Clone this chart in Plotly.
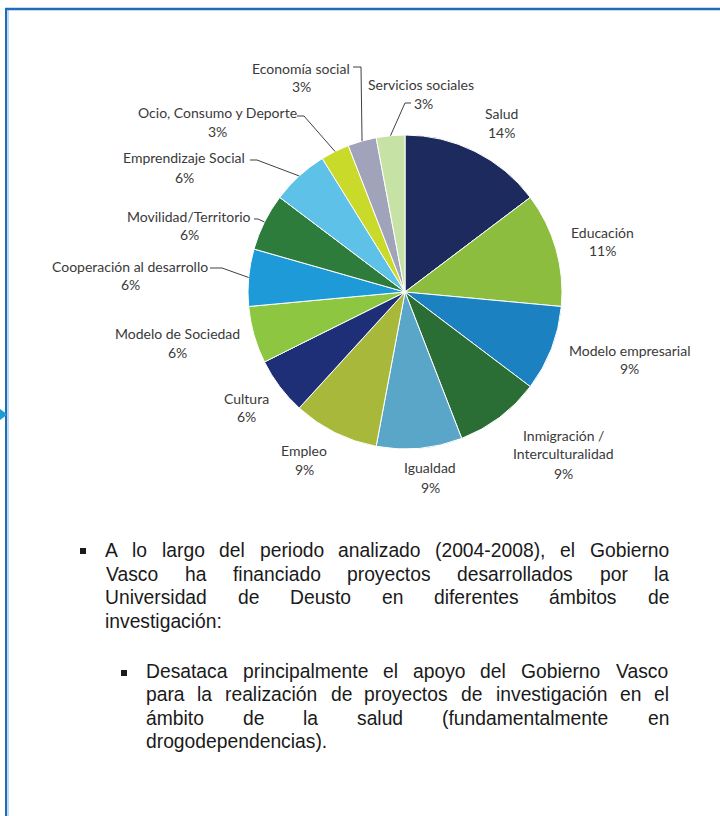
import math
import plotly.graph_objects as go

# ---------------- data ----------------
categories = [
    "Salud", "Educación", "Modelo empresarial", "Inmigración / Interculturalidad",
    "Igualdad", "Empleo", "Cultura", "Modelo de Sociedad",
    "Cooperación al desarrollo", "Movilidad/Territorio", "Emprendizaje Social",
    "Ocio, Consumo y Deporte", "Economía social", "Servicios sociales",
]
project_counts = [5, 4, 3, 3, 3, 3, 2, 2, 2, 2, 2, 1, 1, 1]
pct_labels = ["14%", "11%", "9%", "9%", "9%", "9%", "6%", "6%", "6%", "6%", "6%", "3%", "3%", "3%"]

bullet1_lines = [
    "A lo largo del periodo analizado (2004-2008), el Gobierno",
    "Vasco ha financiado proyectos desarrollados por la",
    "Universidad de Deusto en diferentes ámbitos de",
    "investigación:",
]
bullet2_lines = [
    "Desataca principalmente el apoyo del Gobierno Vasco",
    "para la realización de proyectos de investigación en el",
    "ámbito de la salud (fundamentalmente en",
    "drogodependencias).",
]

# ---------------- style / layout ----------------
W, H = 720, 816
CX, CY, R = 405, 292, 157

colors = ["#1c2a5e", "#8cbd3f", "#1b81c0", "#2a6e36", "#5aa6c8", "#a8b83a", "#1e2f78",
          "#8dc640", "#1f9ad8", "#2d7c3b", "#5ec1e8", "#c9da2b", "#a0a3b9", "#c6e2a4"]

# label text lines and pixel placement: (center x, [name lines], [y of name lines], y of pct, x of pct)
label_layout = {
    "Salud": (501, ["Salud"], [114], 133, 501),
    "Educación": (602, ["Educación"], [232], 250, 602),
    "Modelo empresarial": (629, ["Modelo empresarial"], [350], 369, 629),
    "Inmigración / Interculturalidad": (563, ["Inmigración /", "Interculturalidad"], [435, 453], 473, 563),
    "Igualdad": (430, ["Igualdad"], [467], 487, 430),
    "Empleo": (304, ["Empleo"], [450], 470, 304),
    "Cultura": (246, ["Cultura"], [398], 417, 246),
    "Modelo de Sociedad": (177, ["Modelo de Sociedad"], [333], 352, 177),
    "Cooperación al desarrollo": (130, ["Cooperación al desarrollo"], [267], 284, 130),
    "Movilidad/Territorio": (189, ["Movilidad/Territorio"], [217], 235, 189),
    "Emprendizaje Social": (184, ["Emprendizaje Social"], [158], 177, 184),
    "Ocio, Consumo y Deporte": (217, ["Ocio, Consumo y Deporte"], [113], 132, 217),
    "Economía social": (301, ["Economía social"], [68], 87, 301),
    "Servicios sociales": (421, ["Servicios sociales"], [85], 103, 423),
}
# leader line start / elbow points (pixels); end point computed on the slice edge
leaders = {
    "Cooperación al desarrollo": [(210, 268), (222, 268)],
    "Movilidad/Territorio": [(254, 219), (258, 219)],
    "Emprendizaje Social": [(250, 160), (257, 160)],
    "Ocio, Consumo y Deporte": [(297, 116), (304, 116)],
    "Economía social": [(353, 67), (361, 67)],
    "Servicios sociales": [(411, 103), (405, 103)],
}


def px(x):
    return x / W


def py(y):
    return 1 - y / H


fig = go.Figure()
fig.add_trace(go.Pie(
    labels=categories,
    values=project_counts,
    sort=False,
    direction="clockwise",
    rotation=0,
    textinfo="none",
    hoverinfo="label+percent",
    marker=dict(colors=colors, line=dict(color="white", width=1)),
    domain=dict(x=[px(CX - R), px(CX + R)], y=[py(CY + R), py(CY - R)]),
    showlegend=False,
))

annotations = []
shapes = []
LABEL_FONT = dict(family="Lato, Noto Sans, sans-serif", size=14, color="#3a3a3a")

for cat, pct in zip(categories, pct_labels):
    cx, lines, ys, pct_y, pct_x = label_layout[cat]
    for t, y in zip(lines, ys):
        annotations.append(dict(x=px(cx), y=py(y), xref="paper", yref="paper", text=t,
                                showarrow=False, xanchor="center", yanchor="middle", font=LABEL_FONT))
    annotations.append(dict(x=px(pct_x), y=py(pct_y), xref="paper", yref="paper", text=pct,
                            showarrow=False, xanchor="center", yanchor="middle", font=LABEL_FONT))

# leader lines to slice mid-points on the rim
total = sum(project_counts)
cum = 0
for cat, v in zip(categories, project_counts):
    mid = (cum + v / 2) / total * 360
    cum += v
    if cat in leaders:
        ex = CX + R * math.sin(math.radians(mid))
        ey = CY - R * math.cos(math.radians(mid))
        pts = leaders[cat] + [(ex, ey)]
        path = "M " + " L ".join(f"{px(x):.5f},{py(y):.5f}" for x, y in pts)
        shapes.append(dict(type="path", path=path, xref="paper", yref="paper",
                           line=dict(color="#404040", width=1)))

# ------------- body text (justified, Arial metrics) -------------
AW = {" ": 278, "a": 556, "b": 556, "c": 500, "d": 556, "e": 556, "f": 278, "g": 556, "h": 556,
      "i": 222, "j": 222, "k": 500, "l": 222, "m": 833, "n": 556, "o": 556, "p": 556, "q": 556,
      "r": 333, "s": 500, "t": 278, "u": 556, "v": 500, "w": 722, "x": 500, "y": 500, "z": 500,
      "A": 667, "V": 667, "U": 722, "D": 722, "G": 778, "(": 333, ")": 333, "-": 333, ",": 278,
      ".": 278, ":": 278, "á": 556, "ó": 556, "0": 556, "2": 556, "4": 556, "8": 556}
FS = 19.3
BODY_FONT = dict(family="Liberation Sans, Arial, sans-serif", size=FS, color="#1a1a1a")


def wwidth(w):
    return sum(AW.get(c, 556) for c in w) / 1000 * FS


def add_paragraph(lines, left, right, baselines):
    for i, (line, base) in enumerate(zip(lines, baselines)):
        words = line.split(" ")
        ycen = base - 0.34 * FS
        last = i == len(lines) - 1
        widths = [wwidth(w) for w in words]
        if last or len(words) == 1:
            gap = AW[" "] / 1000 * FS
        else:
            gap = (right - left - sum(widths)) / (len(words) - 1)
        x = left
        for w, wd in zip(words, widths):
            annotations.append(dict(x=px(x + wd / 2), y=py(ycen), xref="paper", yref="paper",
                                    text=w, showarrow=False, xanchor="center", yanchor="middle",
                                    font=BODY_FONT))
            x += wd + gap


add_paragraph(bullet1_lines, 105, 669, [557, 581, 604.5, 628])
add_paragraph(bullet2_lines, 146, 669, [678, 701.5, 725, 748.5])

# bullets
for (x0, y0, s) in [(80, 548, 6), (121, 670, 6)]:
    shapes.append(dict(type="rect", xref="paper", yref="paper", x0=px(x0), x1=px(x0 + s),
                       y0=py(y0 + s), y1=py(y0), fillcolor="#1a1a1a", line=dict(width=0)))

# frame
shapes.append(dict(type="line", xref="paper", yref="paper", x0=px(5), x1=px(720), y0=py(9), y1=py(9),
                   line=dict(color="#1f6db5", width=2.5)))
shapes.append(dict(type="line", xref="paper", yref="paper", x0=px(6), x1=px(6), y0=py(8), y1=py(816),
                   line=dict(color="#1f6db5", width=2)))
shapes.append(dict(type="line", xref="paper", yref="paper", x0=px(8), x1=px(8), y0=py(10), y1=py(816),
                   line=dict(color="#7ab4e4", width=1)))
shapes.append(dict(type="path", xref="paper", yref="paper",
                   path=f"M {px(0)},{py(409)} L {px(7.5)},{py(414.5)} L {px(0)},{py(420)} Z",
                   fillcolor="#1e9ad6", line=dict(width=0)))

fig.update_layout(
    width=W, height=H, autosize=False,
    margin=dict(l=0, r=0, t=0, b=0),
    paper_bgcolor="white", plot_bgcolor="white",
    annotations=annotations, shapes=shapes,
)

fig.write_html(
    "out.html",
    config={"displayModeBar": False},
    post_script="document.body.style.margin='0px';document.body.style.overflow='hidden';",
)
